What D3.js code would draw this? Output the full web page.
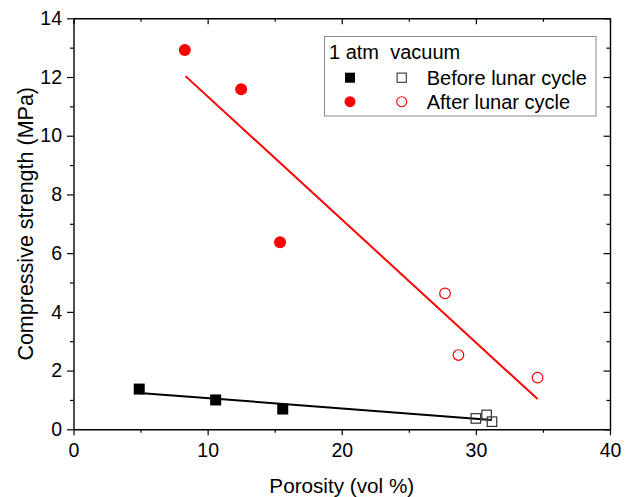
<!DOCTYPE html>
<html>
<head>
<meta charset="utf-8">
<script src="https://cdn.jsdelivr.net/npm/d3@7"></script>
<style>
    body { margin: 0; background: #fff; }
    svg { display: block; font-family: "Liberation Sans", Arial, sans-serif; }
</style>
</head>
<body>
<div id="chart"></div>
<script>
// data
const porosityAtmBefore = [4.9, 10.6, 15.6];
const strengthAtmBefore = [1.37, 1.0, 0.69];
const porosityVacBefore = [30.0, 30.8, 31.2];
const strengthVacBefore = [0.37, 0.49, 0.26];

const porosityAtmAfter = [8.3, 12.5, 15.4];
const strengthAtmAfter = [12.92, 11.58, 6.37];
const porosityVacAfter = [27.7, 28.7, 34.6];
const strengthVacAfter = [4.63, 2.53, 1.76];

// fitted lines (end points)
const fitBeforeX = [4.9, 31.2];
const fitBeforeY = [1.24, 0.32];
const fitAfterX = [8.35, 34.6];
const fitAfterY = [12.03, 1.03];

const xTicks = [0, 10, 20, 30, 40];
const xMinorTicks = [5, 15, 25, 35];
const yTicks = [0, 2, 4, 6, 8, 10, 12, 14];
const yMinorTicks = [1, 3, 5, 7, 9, 11, 13];

const legendTitle = "1 atm  vacuum";
const legendLabels = ["Before lunar cycle", "After lunar cycle"];
const xTitle = "Porosity (vol %)";
const yTitle = "Compressive strength (MPa)";

const width = 633;
const height = 497;
const margin = { left: 73.5, right: 23, top: 18.3, bottom: 67.7 };
const red = "#ff0000";

const svg = d3.select("#chart")
    .append("svg")
    .attr("width", width)
    .attr("height", height);

const xScale = d3.scaleLinear()
    .domain([0, 40])
    .range([margin.left, width - margin.right]);

const yScale = d3.scaleLinear()
    .domain([0, 14])
    .range([height - margin.bottom, margin.top]);

const plotBottom = height - margin.bottom;
const plotRight = width - margin.right;

// axes
function styleAxis(g) {
    g.selectAll("path").attr("stroke", "#000").attr("stroke-width", 1.4);
    g.selectAll("line").attr("stroke", "#000").attr("stroke-width", 1.2);
    g.selectAll("text").attr("fill", "#000").attr("font-size", 19.5)
        .attr("font-family", "'Liberation Sans', Arial, sans-serif");
}

const xAxis = svg.append("g")
    .attr("transform", `translate(0, ${plotBottom})`)
    .call(d3.axisBottom(xScale).tickValues(xTicks).tickSize(6).tickSizeOuter(0).tickPadding(8));
styleAxis(xAxis);

svg.append("g")
    .attr("transform", `translate(0, ${plotBottom})`)
    .call(d3.axisBottom(xScale).tickValues(xMinorTicks).tickSize(3.5).tickFormat(""))
    .call(g => g.select("path").remove())
    .call(styleAxis);

const yAxis = svg.append("g")
    .attr("transform", `translate(${margin.left}, 0)`)
    .call(d3.axisLeft(yScale).tickValues(yTicks).tickSize(6.5).tickSizeOuter(0).tickPadding(5));
styleAxis(yAxis);

svg.append("g")
    .attr("transform", `translate(${margin.left}, 0)`)
    .call(d3.axisLeft(yScale).tickValues(yMinorTicks).tickSize(3.5).tickFormat(""))
    .call(g => g.select("path").remove())
    .call(styleAxis);

// mirror axes, ticks inward
svg.append("g")
    .attr("transform", `translate(0, ${margin.top})`)
    .call(d3.axisTop(xScale).tickValues(xTicks).tickSize(-6).tickSizeOuter(0).tickFormat(""))
    .call(styleAxis);
svg.append("g")
    .attr("transform", `translate(0, ${margin.top})`)
    .call(d3.axisTop(xScale).tickValues(xMinorTicks).tickSize(-3.5).tickFormat(""))
    .call(g => g.select("path").remove())
    .call(styleAxis);

svg.append("g")
    .attr("transform", `translate(${plotRight}, 0)`)
    .call(d3.axisRight(yScale).tickValues(yTicks).tickSize(-6.5).tickSizeOuter(0).tickFormat(""))
    .call(styleAxis);
svg.append("g")
    .attr("transform", `translate(${plotRight}, 0)`)
    .call(d3.axisRight(yScale).tickValues(yMinorTicks).tickSize(-3.5).tickFormat(""))
    .call(g => g.select("path").remove())
    .call(styleAxis);

// axis titles
svg.append("text")
    .attr("x", (margin.left + plotRight) / 2)
    .attr("y", 493)
    .attr("text-anchor", "middle")
    .attr("font-size", 20.7)
    .text(xTitle);

svg.append("text")
    .attr("transform", `translate(33, ${(margin.top + plotBottom) / 2}) rotate(-90)`)
    .attr("text-anchor", "middle")
    .attr("font-size", 21.5)
    .text(yTitle);

// fit lines
const line = d3.line().x(d => xScale(d[0])).y(d => yScale(d[1]));

svg.append("path")
    .datum(d3.zip(fitBeforeX, fitBeforeY))
    .attr("d", line)
    .attr("fill", "none")
    .attr("stroke", "#000")
    .attr("stroke-width", 2);

svg.append("path")
    .datum(d3.zip(fitAfterX, fitAfterY))
    .attr("d", line)
    .attr("fill", "none")
    .attr("stroke", red)
    .attr("stroke-width", 2);

// markers
function drawSquares(xs, ys, size, filled) {
    svg.append("g").selectAll("rect")
        .data(d3.zip(xs, ys))
        .enter()
        .append("rect")
        .attr("x", d => xScale(d[0]) - size / 2)
        .attr("y", d => yScale(d[1]) - size / 2)
        .attr("width", size)
        .attr("height", size)
        .attr("fill", filled ? "#000" : "none")
        .attr("stroke", filled ? "none" : "#333")
        .attr("stroke-width", 1.2);
}

function drawCircles(xs, ys, r, filled) {
    svg.append("g").selectAll("circle")
        .data(d3.zip(xs, ys))
        .enter()
        .append("circle")
        .attr("cx", d => xScale(d[0]))
        .attr("cy", d => yScale(d[1]))
        .attr("r", r)
        .attr("fill", filled ? red : "none")
        .attr("stroke", filled ? "none" : red)
        .attr("stroke-width", 1.2);
}

drawSquares(porosityAtmBefore, strengthAtmBefore, 11, true);
drawSquares(porosityVacBefore, strengthVacBefore, 9.5, false);
drawCircles(porosityAtmAfter, strengthAtmAfter, 6, true);
drawCircles(porosityVacAfter, strengthVacAfter, 5.3, false);

// legend
const legend = svg.append("g");
legend.append("rect")
    .attr("x", 324.5)
    .attr("y", 36.5)
    .attr("width", 271.5)
    .attr("height", 79.5)
    .attr("fill", "#fff")
    .attr("stroke", "#888")
    .attr("stroke-width", 1);

legend.append("text")
    .attr("x", 329)
    .attr("y", 58.5)
    .attr("font-size", 20)
    .attr("xml:space", "preserve")
    .style("white-space", "pre")
    .text(legendTitle);

const legendRowY = [77.7, 101.7];

legend.append("rect")
    .attr("x", 350 - 5).attr("y", legendRowY[0] - 5)
    .attr("width", 10).attr("height", 10)
    .attr("fill", "#000");
legend.append("rect")
    .attr("x", 401.7 - 4.6).attr("y", legendRowY[0] - 4.6)
    .attr("width", 9.2).attr("height", 9.2)
    .attr("fill", "none").attr("stroke", "#333").attr("stroke-width", 1.1);
legend.append("circle")
    .attr("cx", 350).attr("cy", legendRowY[1]).attr("r", 5.5)
    .attr("fill", red);
legend.append("circle")
    .attr("cx", 401.7).attr("cy", legendRowY[1]).attr("r", 5)
    .attr("fill", "none").attr("stroke", red).attr("stroke-width", 1.1);

legend.selectAll("text.label")
    .data(legendLabels)
    .enter()
    .append("text")
    .attr("class", "label")
    .attr("x", 426.7)
    .attr("y", (d, i) => legendRowY[i] + 7)
    .attr("font-size", 20)
    .text(d => d);
</script>
</body>
</html>
